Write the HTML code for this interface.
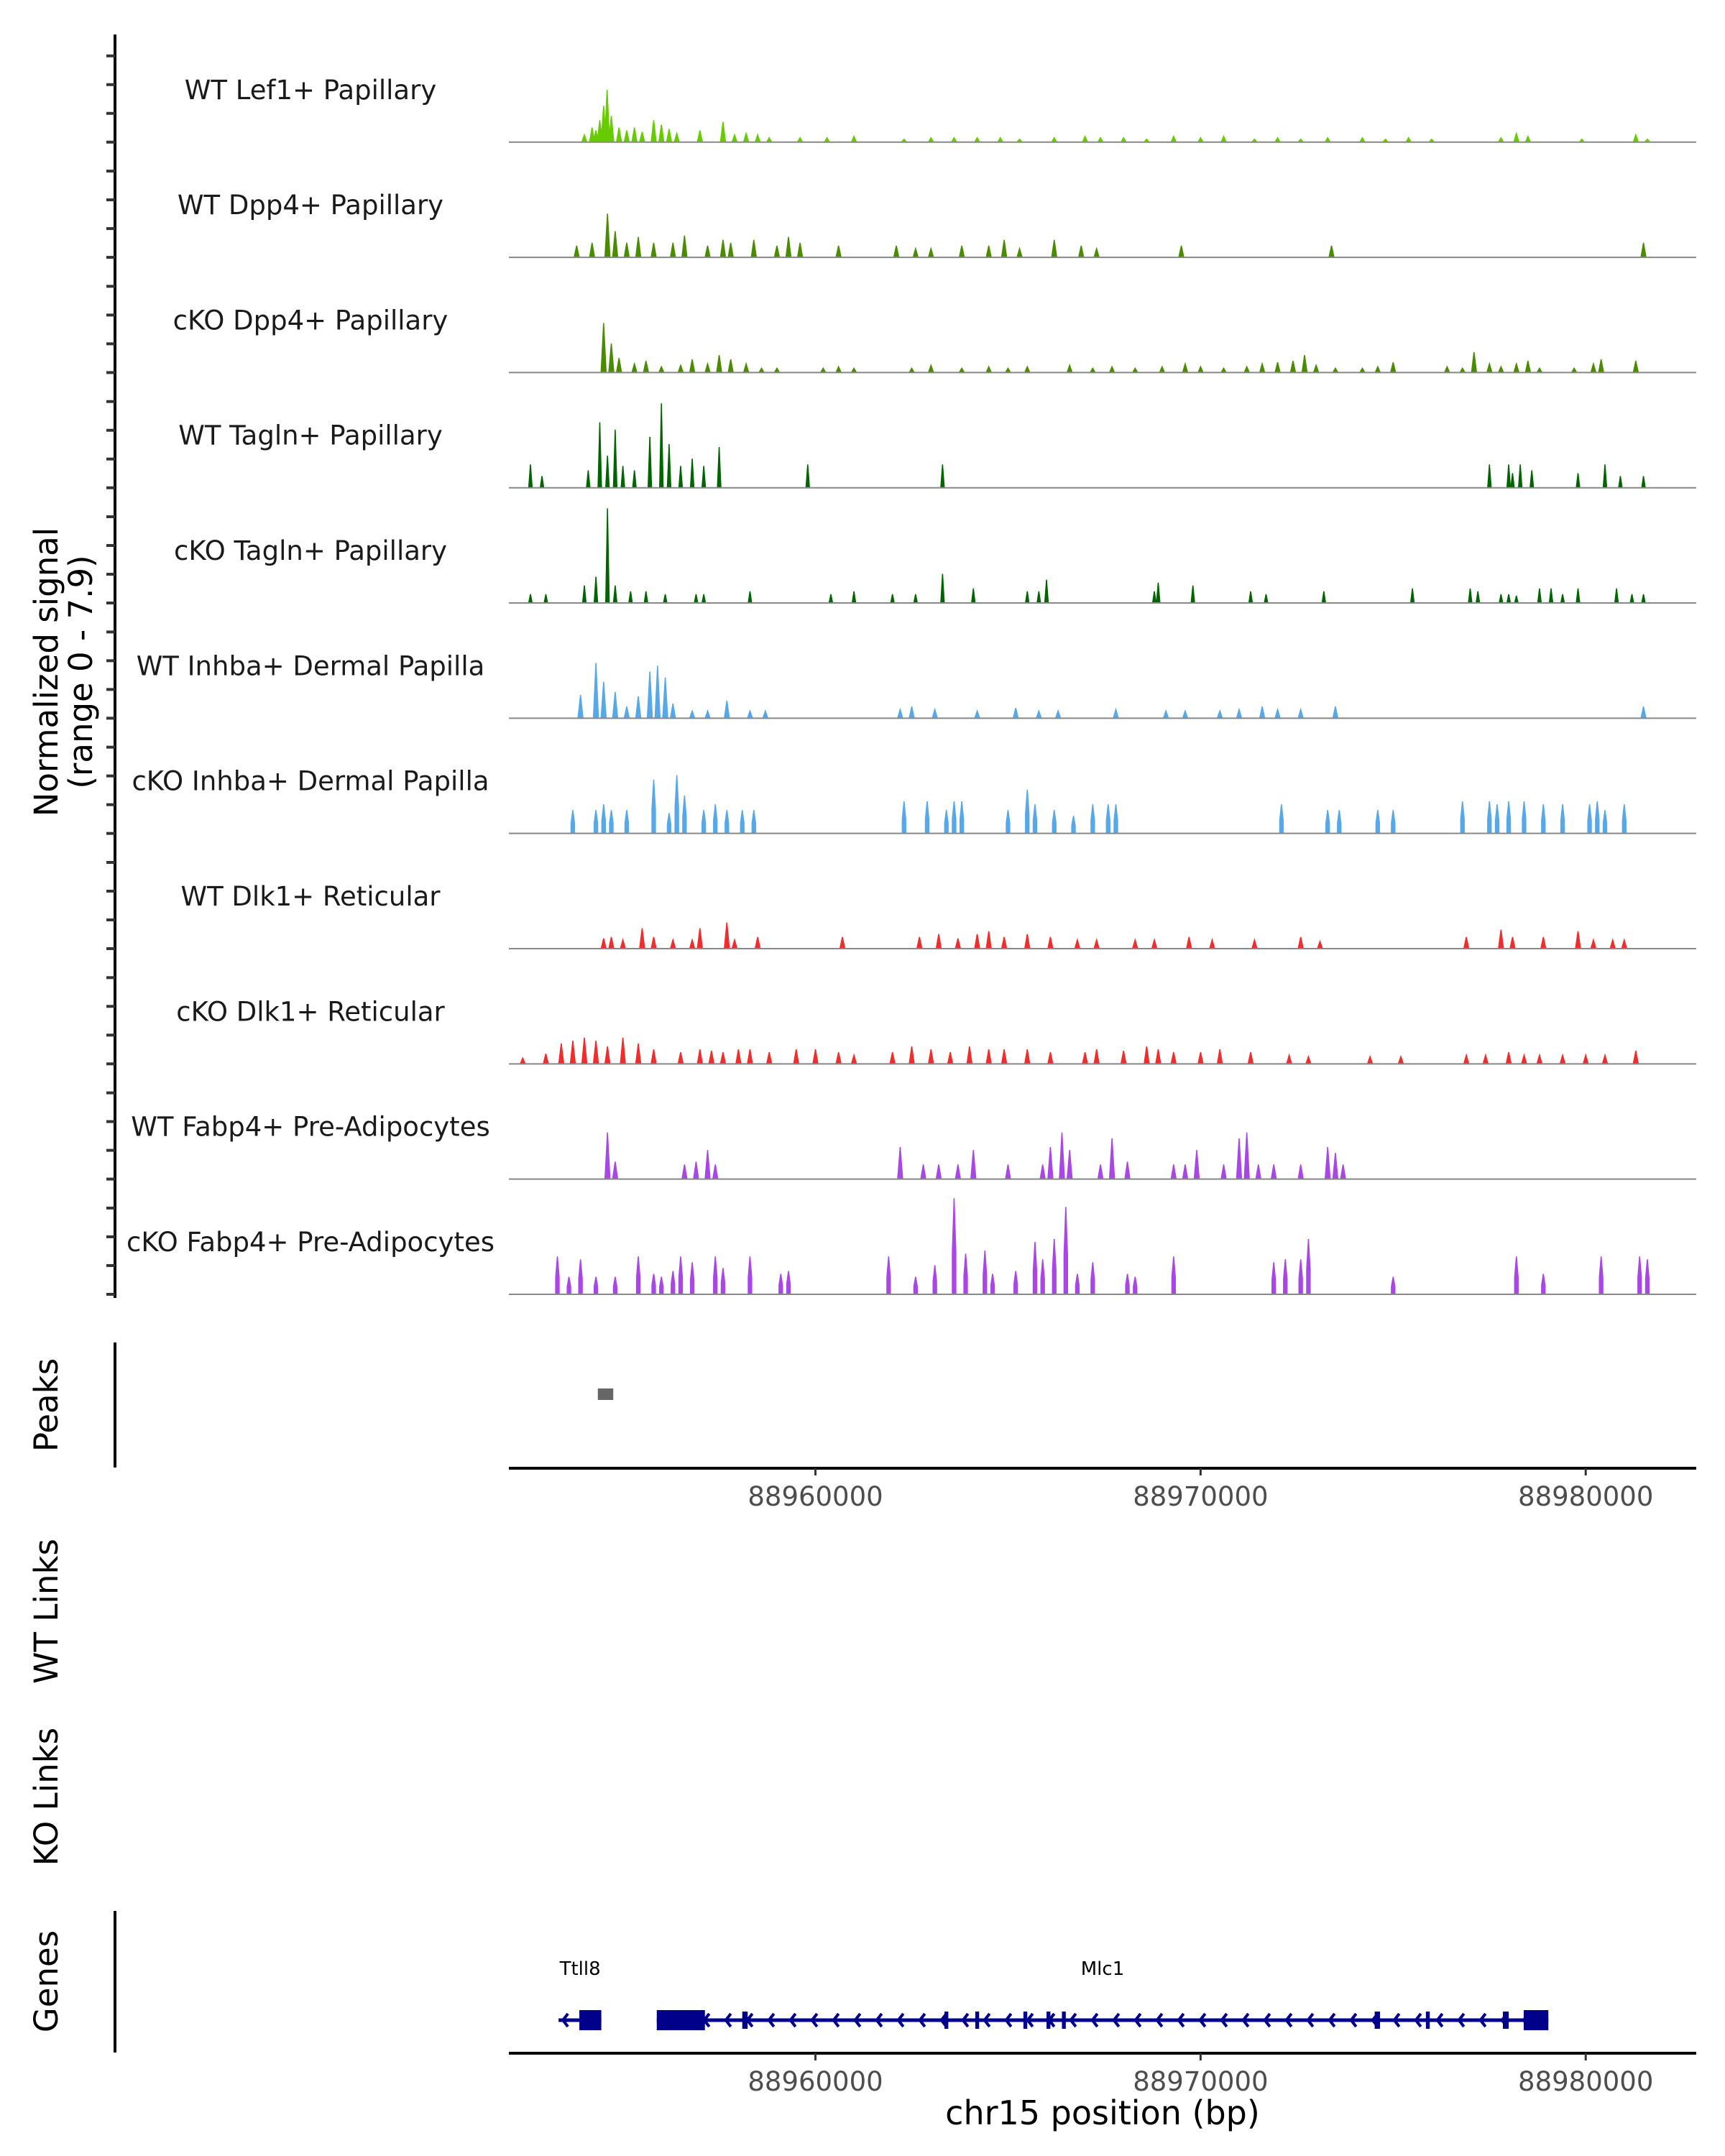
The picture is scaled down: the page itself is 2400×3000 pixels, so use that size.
<!DOCTYPE html>
<html><head><meta charset="utf-8"><style>
html,body{margin:0;padding:0;background:#fff;}
svg{display:block;font-family:"DejaVu Sans","Liberation Sans",sans-serif;}
</style></head><body>
<svg id="chart" width="2400" height="3000" viewBox="0 0 2400 3000" xmlns="http://www.w3.org/2000/svg">
<g id="static">
  <line x1="160" y1="48" x2="160" y2="1806" stroke="#000" stroke-width="4"/>
  <text transform="translate(80,935) rotate(-90)" text-anchor="middle" font-size="45">Normalized signal</text>
  <text transform="translate(128,935) rotate(-90)" text-anchor="middle" font-size="45">(range 0 - 7.9)</text>
  <line x1="160" y1="1868" x2="160" y2="2042" stroke="#000" stroke-width="4"/>
  <text transform="translate(80,1955) rotate(-90)" text-anchor="middle" font-size="45">Peaks</text>
  <text transform="translate(80,2242) rotate(-90)" text-anchor="middle" font-size="45">WT Links</text>
  <text transform="translate(80,2500) rotate(-90)" text-anchor="middle" font-size="45">KO Links</text>
  <line x1="160" y1="2659" x2="160" y2="2856" stroke="#000" stroke-width="4"/>
  <text transform="translate(80,2757) rotate(-90)" text-anchor="middle" font-size="45">Genes</text>
  <line x1="708" y1="2043" x2="2360" y2="2043" stroke="#000" stroke-width="4"/>
  <line x1="708" y1="2857" x2="2360" y2="2857" stroke="#000" stroke-width="4"/>
  <text x="1534" y="2956" text-anchor="middle" font-size="46">chr15 position (bp)</text>
</g>
<g id="dyn"></g>
</svg>
<script>
// positions are kb offsets from 88950000
const trackNames = ["WT Lef1+ Papillary","WT Dpp4+ Papillary","cKO Dpp4+ Papillary","WT Tagln+ Papillary","cKO Tagln+ Papillary","WT Inhba+ Dermal Papilla","cKO Inhba+ Dermal Papilla","WT Dlk1+ Reticular","cKO Dlk1+ Reticular","WT Fabp4+ Pre-Adipocytes","cKO Fabp4+ Pre-Adipocytes"];
const trackColors = ["#66cc00","#4b8b00","#4b8b00","#006400","#006400","#56a8e8","#56a8e8","#f02c2c","#f02c2c","#a946e6","#a946e6"];
const lef1Pos = [4.0,4.2,4.3,4.4,4.5,4.59,4.7,4.9,5.1,5.3,5.5,5.8,6.0,6.2,6.4,7.0,7.6,7.9,8.2,8.5,8.8,9.6,10.3,11.0,12.3,13.0,13.6,14.2,14.8,15.3,16.2,17.0,17.4,18.0,18.6,19.3,20.0,20.6,21.4,22.0,22.6,23.3,24.2,24.8,25.4,26.0,27.8,28.2,28.5,29.9,31.3,31.6];
const lef1Val = [0.5,1.0,0.8,1.5,2.5,3.6,1.8,1.0,0.8,1.0,0.7,1.5,1.2,0.9,0.6,0.8,1.4,0.5,0.6,0.5,0.3,0.3,0.3,0.4,0.2,0.3,0.3,0.3,0.3,0.2,0.3,0.4,0.3,0.3,0.2,0.4,0.3,0.4,0.2,0.3,0.2,0.3,0.3,0.2,0.3,0.2,0.3,0.6,0.4,0.2,0.5,0.2];
const wtDppPos = [3.8,4.2,4.6,4.8,5.1,5.4,5.8,6.3,6.6,7.2,7.6,7.8,8.4,9.0,9.3,9.6,10.6,12.1,12.6,13.0,13.8,14.5,14.9,15.3,16.2,16.9,17.3,19.5,23.4,31.5];
const wtDppVal = [0.8,1.0,3.0,1.8,1.0,1.4,1.0,1.0,1.5,0.8,1.2,1.0,1.2,0.8,1.4,1.0,0.8,0.8,0.6,0.6,0.8,0.8,1.2,0.6,1.2,0.8,0.6,0.8,0.8,1.0];
const koDppPos = [4.5,4.7,4.9,5.3,5.6,6.0,6.5,6.8,7.2,7.5,7.8,8.2,8.6,9.0,10.2,10.6,11.0,12.5,13.0,13.8,14.5,15.0,15.5,16.6,17.2,17.7,18.3,19.0,19.6,20.0,20.6,21.2,21.6,22.0,22.4,22.7,23.0,23.5,24.2,24.6,25.0,26.4,26.8,27.1,27.5,27.8,28.2,28.5,28.8,29.7,30.2,30.4,31.3];
const koDppVal = [3.4,2.0,1.0,0.6,0.8,0.4,0.5,0.9,0.6,1.2,0.9,0.6,0.3,0.3,0.3,0.4,0.3,0.3,0.5,0.3,0.4,0.3,0.4,0.5,0.3,0.4,0.3,0.4,0.6,0.4,0.3,0.4,0.6,0.7,0.8,1.2,0.5,0.3,0.3,0.4,0.7,0.4,0.3,1.4,0.6,0.4,0.6,0.8,0.3,0.3,0.6,0.9,0.8];
const wtTagPos = [2.6,2.9,4.1,4.4,4.6,4.8,5.0,5.3,5.7,6.0,6.2,6.5,6.8,7.1,7.5,9.8,13.3,27.5,28.0,28.1,28.3,28.6,29.8,30.5,30.9,31.5];
const wtTagVal = [1.6,0.8,1.2,4.5,2.2,4.0,1.5,1.2,3.5,5.8,3.0,1.5,2.0,1.5,2.8,1.6,1.6,1.6,1.6,1.0,1.6,1.2,1.0,1.6,0.8,0.8];
const koTagPos = [2.6,3.0,4.0,4.3,4.6,4.8,5.2,5.6,6.1,6.9,7.1,8.3,10.4,11.0,12.0,12.6,13.3,14.1,15.5,15.8,16.0,18.8,18.9,19.8,21.3,21.7,23.2,25.5,27.0,27.2,27.8,28.0,28.2,28.8,29.1,29.4,29.8,30.8,31.2,31.5];
const koTagVal = [0.6,0.6,1.2,1.8,6.5,1.2,0.8,0.8,0.6,0.6,0.6,0.8,0.6,0.8,0.6,0.6,2.0,1.0,0.8,0.8,1.6,0.8,1.4,1.2,0.8,0.6,0.8,1.0,1.0,0.8,0.6,0.6,0.5,1.0,1.0,0.6,1.0,1.0,0.6,0.6];
const wtInhPos = [3.9,4.3,4.5,4.8,5.1,5.4,5.7,5.9,6.1,6.3,6.8,7.2,7.7,8.3,8.7,12.2,12.5,13.1,14.2,15.2,15.8,16.3,17.8,19.1,19.6,20.5,21.0,21.6,22.0,22.6,23.5,31.5];
const wtInhVal = [1.6,3.8,2.5,1.8,0.8,1.5,3.2,3.6,2.8,1.0,0.5,0.5,1.2,0.5,0.5,0.6,0.8,0.6,0.5,0.7,0.5,0.5,0.6,0.5,0.5,0.5,0.6,0.8,0.6,0.6,0.8,0.8];
const koInhPos = [3.7,4.3,4.5,4.7,5.1,5.8,6.2,6.4,6.6,7.1,7.4,7.7,8.1,8.4,12.3,12.9,13.4,13.6,13.8,15.0,15.5,15.7,16.2,16.7,17.2,17.6,17.8,22.1,23.3,23.6,24.6,25.0,26.8,27.5,27.7,28.0,28.4,28.9,29.4,30.1,30.3,30.5,31.0];
const koInhVal = [1.6,1.6,2.0,1.6,1.6,3.7,1.4,4.0,2.6,1.6,2.0,1.6,1.6,1.6,2.2,2.2,1.6,2.2,2.2,1.6,3.0,2.0,1.6,1.2,2.0,2.0,2.0,2.0,1.6,1.6,1.6,1.6,2.2,2.2,2.0,2.2,2.2,2.0,2.0,2.0,2.2,1.6,2.0];
const wtDlkPos = [4.5,4.7,5.0,5.5,5.8,6.3,6.8,7.0,7.7,7.9,8.5,10.7,12.7,13.2,13.7,14.2,14.5,14.9,15.5,16.1,16.8,17.3,18.3,18.8,19.7,20.3,21.4,22.6,23.1,26.9,27.8,28.1,28.9,29.8,30.2,30.7,31.0];
const wtDlkVal = [0.7,0.8,0.6,1.4,0.8,0.6,0.6,1.4,1.8,0.6,0.8,0.8,0.8,1.0,0.7,1.0,1.2,0.8,1.0,0.8,0.6,0.6,0.6,0.6,0.8,0.6,0.6,0.8,0.5,0.8,1.3,0.8,0.8,1.2,0.6,0.6,0.6];
const koDlkPos = [2.4,3.0,3.4,3.7,4.0,4.3,4.6,5.0,5.4,5.8,6.5,7.0,7.3,7.6,8.0,8.3,8.8,9.5,10.0,10.6,11.0,12.0,12.5,13.0,13.5,14.0,14.5,14.9,15.5,16.1,17.0,17.3,18.0,18.6,18.9,19.3,20.0,20.5,21.3,22.3,22.8,24.4,25.2,26.9,27.4,28.0,28.4,28.8,29.4,30.0,30.5,31.3];
const koDlkVal = [0.4,0.7,1.4,1.6,1.8,1.6,1.2,1.8,1.4,1.0,0.8,1.0,0.9,0.8,1.0,1.0,0.8,1.0,1.0,0.8,0.6,0.8,1.2,1.0,0.8,1.2,1.0,1.0,1.0,0.8,0.8,1.0,0.9,1.2,1.0,0.8,0.8,1.0,0.8,0.6,0.5,0.5,0.5,0.6,0.6,0.8,0.6,0.6,0.6,0.6,0.6,0.9];
const wtFabPos = [4.6,4.8,6.6,6.9,7.2,7.4,12.2,12.8,13.2,13.7,14.1,15.0,15.9,16.1,16.4,16.6,17.4,17.7,18.1,19.3,19.6,19.9,20.6,21.0,21.2,21.5,21.9,22.6,23.3,23.5,23.7];
const wtFabVal = [3.2,1.2,1.0,1.2,2.0,1.0,2.2,1.0,1.0,1.0,2.0,1.0,1.0,2.2,3.2,2.0,1.0,2.8,1.2,1.0,1.0,2.0,1.0,2.8,3.2,1.0,1.0,1.0,2.2,1.8,1.0];
const koFabPos = [3.3,3.6,3.9,4.3,4.8,5.4,5.8,6.0,6.3,6.5,6.8,7.4,7.6,8.3,9.1,9.3,11.9,12.6,13.1,13.6,13.9,14.4,14.6,15.2,15.7,15.9,16.2,16.5,16.8,17.2,18.1,18.3,19.3,21.9,22.2,22.6,22.8,25.0,28.2,28.9,30.4,31.4,31.6];
const koFabVal = [2.6,1.2,2.4,1.2,1.2,2.6,1.4,1.2,1.6,2.6,2.2,2.6,1.8,2.6,1.4,1.6,2.6,1.2,2.0,6.6,2.8,3.0,1.4,1.6,3.6,2.4,3.8,6.0,1.4,2.2,1.4,1.2,2.6,2.2,2.4,2.4,3.8,1.2,2.6,1.4,2.6,2.6,2.4];
const peakStarts = [4.35];
const peakEnds = [4.75];
const xTickValues = [10,20,30];
const xTickLabels = ["88960000","88970000","88980000"];
const geneNames = ["Ttll8","Mlc1"];
const geneStarts = [3.33,5.88];
const geneEnds = [4.44,29.03];
const exonStarts = [3.87,5.88,8.10,13.35,14.15,15.40,16.00,16.40,24.52,25.85,27.85,28.39];
const exonEnds = [4.44,7.13,8.24,13.45,14.25,15.50,16.10,16.50,24.66,25.95,28.00,29.03];

const trackPos=[lef1Pos,wtDppPos,koDppPos,wtTagPos,koTagPos,wtInhPos,koInhPos,wtDlkPos,koDlkPos,wtFabPos,koFabPos];
const trackVal=[lef1Val,wtDppVal,koDppVal,wtTagVal,koTagVal,wtInhVal,koInhVal,wtDlkVal,koDlkVal,wtFabVal,koFabVal];
const NS="http://www.w3.org/2000/svg";
const X0=708,X1=2360,D0=2.04,D1=32.87;
function xs(v){return X0+(v-D0)*(X1-X0)/(D1-D0);}
const PXU=20.25;
function ys(base,v){return base-v*PXU;}
function baseY(i){return (103+i*83.5)*1.92;}
const g=document.getElementById('dyn');
function mk(tag,attrs){const e=document.createElementNS(NS,tag);for(const k in attrs)e.setAttribute(k,attrs[k]);g.appendChild(e);return e;}

for(let i=0;i<trackNames.length;i++){
  const b=baseY(i);
  for(let k=0;k<4;k++){
    const t=mk('line',{x1:148,x2:160,y1:b-k*40,y2:b-k*40,stroke:'#333','stroke-width':4});
    
    
  }
}
for(let i=0;i<trackNames.length;i++){
  const b=baseY(i);
  const lab=mk('text',{x:432,y:b-60,'text-anchor':'middle','font-size':37,fill:'#1a1a1a'});
  lab.textContent=trackNames[i];
  
  
  const P=trackPos[i],V=trackVal[i];
  const hw=(i==6||i==10||i==3||i==4)?0.045:0.065;
  let d='';
  for(let j=0;j<P.length;j++){
    const a=xs(P[j]-hw),c=xs(P[j]+hw),m=xs(P[j]),t=ys(b,V[j]);
    if(i==6||i==10){d+=`M${a},${b}L${a},${ys(b,V[j]*0.45)}L${m},${t}L${c},${ys(b,V[j]*0.45)}L${c},${b}Z`;}
    else d+=`M${a},${b}L${m},${t}L${c},${b}Z`;
  }
  const p=mk('path',{d:d,fill:trackColors[i],stroke:trackColors[i],'stroke-width':1.5});
  
  
  const bl=mk('line',{x1:X0,x2:X1,y1:b,y2:b,stroke:'#888','stroke-width':2});
  
  
}
for(let i=0;i<peakStarts.length;i++){
  const r=mk('rect',{x:xs(peakStarts[i]),y:1932,width:xs(peakEnds[i])-xs(peakStarts[i]),height:16,fill:'#666'});
  
  
}
[2043,2857].forEach(ay=>{
  for(let i=0;i<xTickValues.length;i++){
    const x=xs(xTickValues[i]);
    const t=mk('line',{x1:x,x2:x,y1:ay,y2:ay+10,stroke:'#333','stroke-width':3});
    
    
    const l=mk('text',{x:x,y:ay+52,'text-anchor':'middle','font-size':37,fill:'#4d4d4d'});
    l.textContent=xTickLabels[i];
    
    
  }
});
const GY=2811;
for(let i=0;i<geneNames.length;i++){
  const a=xs(geneStarts[i]),c=xs(geneEnds[i]);
  const ln=mk('line',{x1:a,x2:c,y1:GY,y2:GY,stroke:'#00008b','stroke-width':5});
  
  
  let d='';
  for(let x=a+6;x<c-10;x+=30){d+=`M${x+7},${GY-9}L${x},${GY}L${x+7},${GY+9}`;}
  const ar=mk('path',{d:d,fill:'none',stroke:'#00008b','stroke-width':4});
  
  
  const lx= i==0 ? xs(geneStarts[i])+30 : (a+c)/2;
  const gl=mk('text',{x:lx,y:2748,'text-anchor':'middle','font-size':26,fill:'#000'});
  gl.textContent=geneNames[i];
  
  
}
for(let i=0;i<exonStarts.length;i++){
  const a=xs(exonStarts[i]),c=xs(exonEnds[i]);
  const w=c-a;
  const h=w>20?28:24;
  const r=mk('rect',{x:a,y:GY-h/2,width:w,height:h,fill:'#00008b'});
  
  
}
</script>
</body></html>
